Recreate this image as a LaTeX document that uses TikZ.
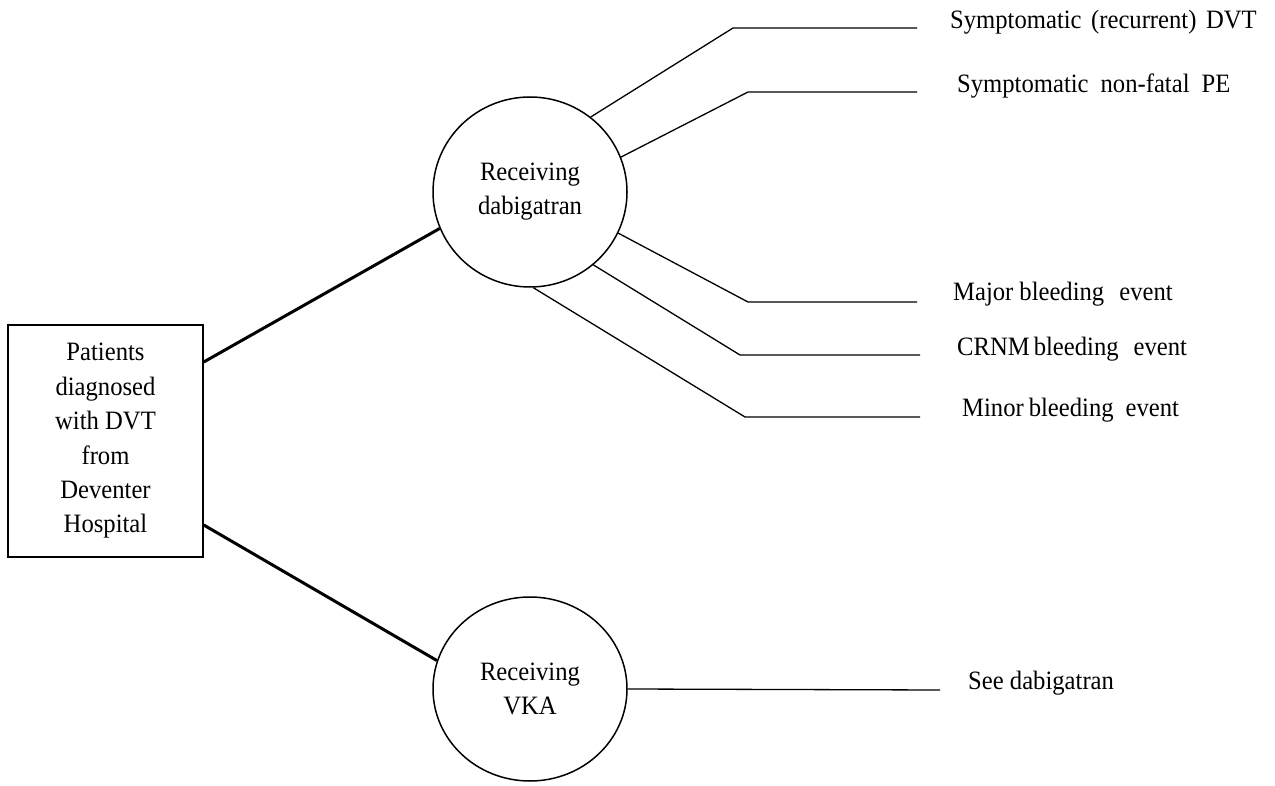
\documentclass[tikz,border=0pt]{standalone}
\usepackage{fontspec}
\setmainfont{Liberation Serif}[FakeStretch=0.93]
\usetikzlibrary{shapes.geometric}
\begin{document}
\begin{tikzpicture}[x=1pt,y=-1pt,
  txt/.style={font=\fontsize{26.5}{34.4}\selectfont},
  thickline/.style={line width=3pt},
  thinline/.style={line width=1.3pt},
  roundnode/.style={ellipse,draw,line width=1.5pt,minimum width=194pt,minimum height=190pt,inner sep=0pt,align=center,font=\fontsize{26.5}{34}\selectfont},
  lab/.style={anchor=west,inner sep=0pt,font=\fontsize{26.5}{30}\selectfont}]
\useasboundingbox (0,0) rectangle (1275,786);
% start box
\node[draw,line width=1.5pt,minimum width=195pt,minimum height=232pt,inner sep=0pt,align=center,txt] (box) at (105.5,441)
  {Patients\\diagnosed\\with DVT\\from\\Deventer\\Hospital};
% treatment nodes
\node[roundnode] (dab) at (530,192) {Receiving\\dabigatran};
\node[roundnode,minimum height=184pt] (vka) at (530,689) {Receiving\\VKA};
% thick connectors
\draw[thickline] ([yshift=79pt]box.east) -- (dab.202);
\draw[thickline] ([yshift=-84pt]box.east) -- (vka.163);
% labels
\node[lab] (l1) at (950,22) {Symptomatic\hspace{9.5pt}(recurrent)\hspace{9.5pt}DVT};
\node[lab] (l2) at (957,86) {Symptomatic\hspace{12pt}non-fatal\hspace{12pt}PE};
\node[lab] (l3) at (953,294) {Major\hspace{6pt}bleeding\hspace{15pt}event};
\node[lab] (l4) at (957,349) {CRNM\hspace{4pt}bleeding\hspace{15pt}event};
\node[lab] (l5) at (962,410) {Minor\hspace{5pt}bleeding\hspace{12pt}event};
\node[lab] (l6) at (968,683) {See dabigatran};
% bend and end coordinates
\coordinate (k1) at (733,28);  \coordinate (e1) at (917,28);
\coordinate (k2) at (748,92);  \coordinate (e2) at (917,92);
\coordinate (k3) at (748,302); \coordinate (e3) at (917,302);
\coordinate (k4) at (740,355); \coordinate (e4) at (920,355);
\coordinate (k5) at (745,417); \coordinate (e5) at (920,417);
\coordinate (e6) at (940,690);
% thin connectors
\draw[thinline] (dab.51) -- (k1) -- (e1);
\draw[thinline] (dab.21) -- (k2) -- (e2);
\draw[thinline] (dab.-25) -- (k3) -- (e3);
\draw[thinline] (dab.-49) -- (k4) -- (e4);
\draw[thinline] (dab.-88) -- (k5) -- (e5);
\draw[thinline] (vka.east) -- (e6);
\end{tikzpicture}
\end{document}
